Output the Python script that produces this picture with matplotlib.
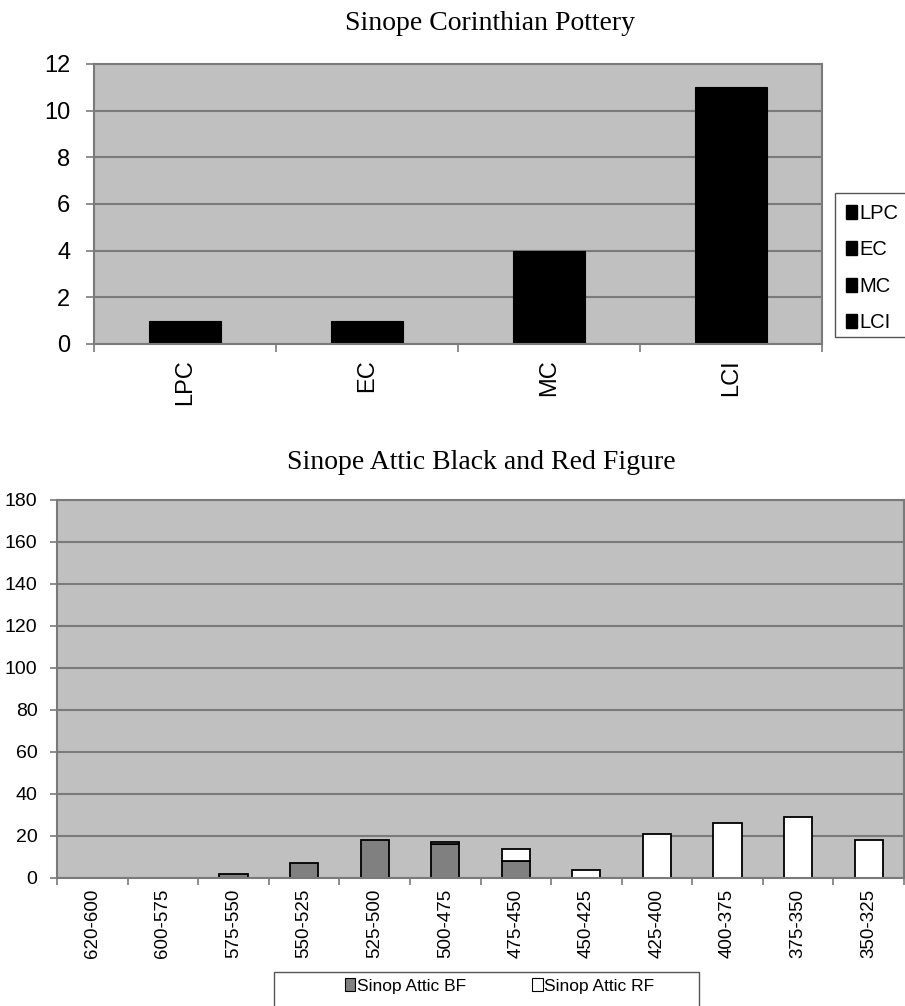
import matplotlib
matplotlib.use("Agg")
import matplotlib.pyplot as plt
from matplotlib.patches import Patch, Rectangle
import numpy as np

# data
cor_periods = ['LPC', 'EC', 'MC', 'LCI']
cor_counts = [1, 1, 4, 11]

attic_periods = ['620-600', '600-575', '575-550', '550-525', '525-500', '500-475',
                 '475-450', '450-425', '425-400', '400-375', '375-350', '350-325']
attic_bf = [0, 0, 2, 7, 18, 16, 8, 0, 0, 0, 0, 0]
attic_rf = [0, 0, 0, 0, 0, 1, 6, 4, 21, 26, 29, 18]

W, H = 905, 1006
plt.rcParams['font.family'] = ['Liberation Sans', 'DejaVu Sans']

fig = plt.figure(figsize=(W / 100, H / 100), dpi=100)

grid_col = '#7a7a7a'
face_col = '#c0c0c0'


def px_axes(left, top, right, bottom):
    return fig.add_axes([left / W, 1 - bottom / H, (right - left) / W, (bottom - top) / H])


def style_axes(ax, n, tick_len, ypad, xpad, ysize, xsize):
    ax.set_facecolor(face_col)
    for s in ax.spines.values():
        s.set_color(grid_col)
        s.set_linewidth(1.5)
    ax.set_xlim(0, n)
    ax.set_xticks(np.arange(n) + 0.5)
    ax.set_xticks(np.arange(n + 1), minor=True)
    ax.tick_params(axis='x', which='major', length=0, pad=xpad, labelsize=xsize)
    ax.tick_params(axis='x', which='minor', length=tick_len, color=grid_col, width=1.2)
    ax.tick_params(axis='y', length=tick_len, color=grid_col, width=1.2, pad=ypad, labelsize=ysize)
    ax.yaxis.grid(True, color=grid_col, linewidth=1.5)
    ax.set_axisbelow(True)


# ---- top chart: Corinthian pottery
ax1 = px_axes(94, 64, 822, 344)
n1 = len(cor_periods)
style_axes(ax1, n1, 6, 11, 11, 17, 17)
x1 = np.arange(n1) + 0.5
ax1.bar(x1, cor_counts, width=0.4, color='black', edgecolor='black', linewidth=0.8)
ax1.set_ylim(0, 12)
ax1.set_yticks(range(0, 13, 2))
ax1.set_xticklabels(cor_periods, rotation=90)

fig.text(490 / W, 1 - 30 / H, 'Sinope Corinthian Pottery', ha='center', va='baseline',
         fontsize=20, family='Liberation Serif')

# legend box cut by the right edge of the picture
fig.patches.append(Rectangle((835 / W, 1 - 337 / H), 90 / W, 144 / H, transform=fig.transFigure,
                             facecolor='white', edgecolor='#555555', linewidth=1.0))
handles1 = [Patch(facecolor='black', edgecolor='black', label=p) for p in cor_periods]
fig.legend(handles=handles1, loc='upper left', bbox_to_anchor=(836 / W, 1 - 194 / H),
           frameon=False, fontsize=14.5, handlelength=0.55, handleheight=0.7,
           handletextpad=0.1, labelspacing=0.86, borderpad=0.5, borderaxespad=0)

# ---- bottom chart: Attic black and red figure
ax2 = px_axes(57, 500, 904, 878)
n2 = len(attic_periods)
style_axes(ax2, n2, 5, 9, 8, 14, 13.5)
x2 = np.arange(n2) + 0.5
bf = np.array(attic_bf)
rf = np.array(attic_rf)
m = bf > 0
ax2.bar(x2[m], bf[m], width=0.4, color='#808080', edgecolor='black', linewidth=1.3)
m = rf > 0
ax2.bar(x2[m], rf[m], bottom=bf[m], width=0.4, color='white', edgecolor='black', linewidth=1.3)
ax2.set_ylim(0, 180)
ax2.set_yticks(range(0, 181, 20))
ax2.set_xticklabels(attic_periods, rotation=90)

fig.text(481 / W, 1 - 469 / H, 'Sinope Attic Black and Red Figure', ha='center', va='baseline',
         fontsize=20, family='Liberation Serif')

fig.patches.append(Rectangle((274 / W, 1 - 1015 / H), 425 / W, 43 / H, transform=fig.transFigure,
                             facecolor='white', edgecolor='#555555', linewidth=1.0))
handles2 = [Patch(facecolor='#808080', edgecolor='black', linewidth=0.8, label='Sinop Attic BF'),
            Patch(facecolor='white', edgecolor='black', linewidth=0.8, label='Sinop Attic RF')]
fig.legend(handles=handles2, loc='center left', bbox_to_anchor=(345 / W, 1 - 986 / H),
           ncol=2, frameon=False, fontsize=12.5, handlelength=0.6, handleheight=0.7,
           handletextpad=0.1, columnspacing=3.8, borderpad=0, borderaxespad=0)

fig.savefig('out.png', dpi=100)
